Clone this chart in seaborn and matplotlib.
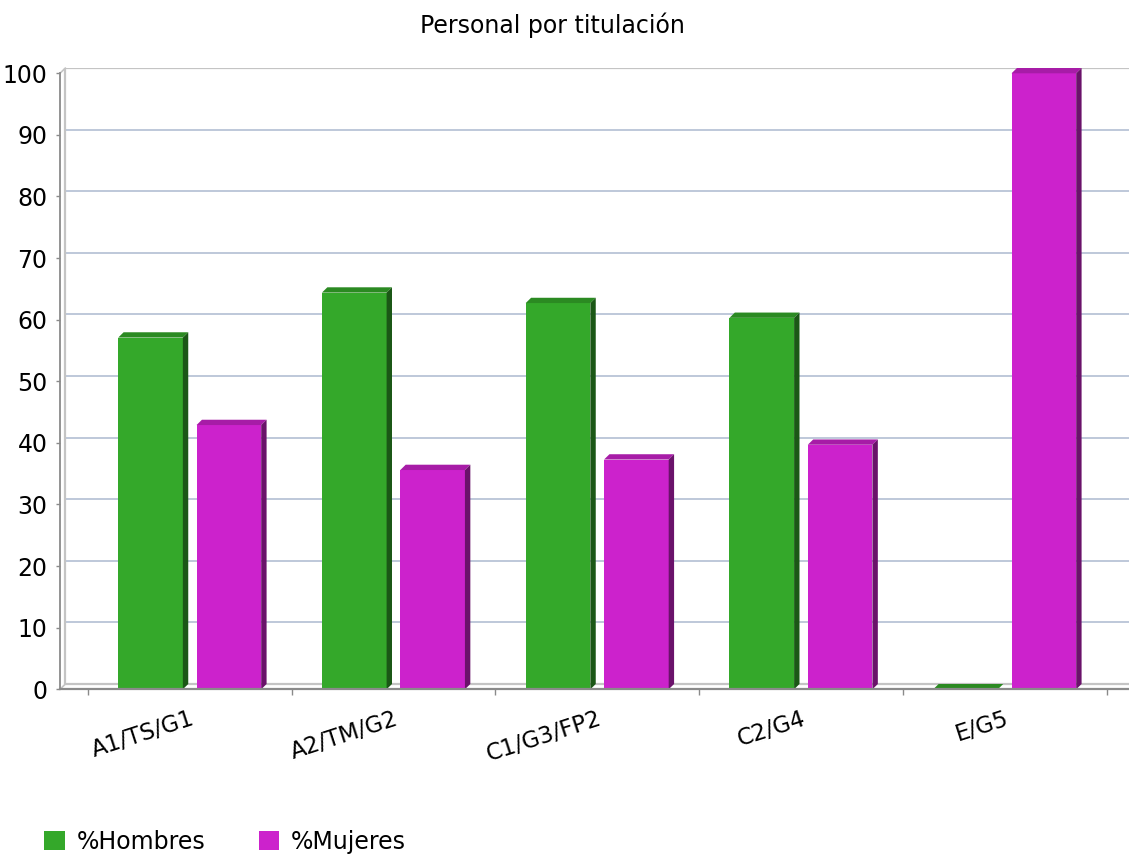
import numpy as np
import pandas as pd
import matplotlib
matplotlib.use("Agg")
import matplotlib.pyplot as plt
from matplotlib.patches import Polygon, Patch
from matplotlib.colors import to_rgb
import seaborn as sns

# --- data -------------------------------------------------------------
categories = ["A1/TS/G1", "A2/TM/G2", "C1/G3/FP2", "C2/G4", "E/G5"]
hombres = [57.1, 64.4, 62.7, 60.3, 0.0]
mujeres = [42.9, 35.6, 37.3, 39.7, 100.0]
series_names = ["%Hombres", "%Mujeres"]
series_colors = ["#34A82A", "#CC22CC"]
y_ticks = list(range(0, 101, 10))
title = "Personal por titulación"

df = pd.DataFrame({
    "categoria": categories * 2,
    "serie": [series_names[0]] * len(categories) + [series_names[1]] * len(categories),
    "valor": hombres + mujeres,
})

# --- figure -----------------------------------------------------------
sns.set_theme(style="white")
plt.rcParams["font.family"] = ["DejaVu Sans"]

W, H = 1129, 858
fig = plt.figure(figsize=(W / 100, H / 100), dpi=100)

# axes geometry in pixels (front plane)
left_px, right_px = 60, 1129
bottom_px, top_px = 689.3, 68.0
front_top_px = 73.3
ax = fig.add_axes([left_px / W, (H - bottom_px) / H,
                   (right_px - left_px) / W, (bottom_px - top_px) / H])

px_per_cat = 203.75
px_per_unit = (bottom_px - front_top_px) / 100.0
first_center_px = 189.7
xmin = -(first_center_px - left_px) / px_per_cat
xmax = xmin + (right_px - left_px) / px_per_cat

# depth offset of the pseudo-3D effect (in data units)
depth_px = 5.4
dx = depth_px / px_per_cat
dy = 5.3 / px_per_unit
ymax = 100 + (front_top_px - top_px) / px_per_unit

sns.barplot(data=df, x="categoria", y="valor", hue="serie",
            order=categories, hue_order=series_names,
            palette=series_colors, saturation=1,
            width=0.769, gap=0.175, linewidth=0, ax=ax, zorder=3)
if ax.get_legend() is not None:
    ax.get_legend().remove()

ax.set_xlim(xmin, xmax)
ax.set_ylim(0, ymax)

# back wall: gridlines and border lines
wall_gray = "#C4C4C4"
grid_col = "#B3BFD3"
for v in y_ticks[1:-1]:
    ax.plot([xmin + dx, xmax], [v + dy, v + dy], color=grid_col, lw=1.2, zorder=1)
ax.plot([xmin + dx, xmax], [100 + dy, 100 + dy], color=wall_gray, lw=1.6, zorder=1)
ax.plot([xmin + dx, xmax], [dy, dy], color=wall_gray, lw=1.6, zorder=1)
ax.plot([xmin + dx, xmin + dx], [dy, 100 + dy], color=wall_gray, lw=1.6, zorder=1)
ax.plot([xmin, xmin + dx], [100, 100 + dy], color=wall_gray, lw=1.2, zorder=1,
        clip_on=False)
ax.plot([xmin, xmin + dx], [0, dy], color=wall_gray, lw=1.2, zorder=1, clip_on=False)

# pseudo-3D faces for every bar
def shade(color, f):
    r, g, b = to_rgb(color)
    return (r * f, g * f, b * f)

for bar in list(ax.patches):
    x0 = bar.get_x()
    w = bar.get_width()
    h = bar.get_height()
    x1 = x0 + w
    fc = bar.get_facecolor()
    top = Polygon([(x0, h), (x0 + dx, h + dy), (x1 + dx, h + dy), (x1, h)],
                  closed=True, facecolor=shade(fc, 0.82), edgecolor="none", zorder=3)
    side = Polygon([(x1, 0), (x1 + dx, dy), (x1 + dx, h + dy), (x1, h)],
                   closed=True, facecolor=shade(fc, 0.52), edgecolor="none", zorder=3)
    ax.add_patch(top)
    ax.add_patch(side)

# front axes lines
for s in ["top", "right"]:
    ax.spines[s].set_visible(False)
ax.spines["left"].set_bounds(0, 100)
ax.spines["left"].set_color("#8A8A8A")
ax.spines["left"].set_linewidth(1.3)
ax.spines["bottom"].set_color("#8A8A8A")
ax.spines["bottom"].set_linewidth(1.6)
for s in ["left", "bottom"]:
    ax.spines[s].set_zorder(4)

ax.set_yticks(y_ticks)
ax.set_yticklabels([str(t) for t in y_ticks], fontsize=17, color="black")
ax.tick_params(axis="y", which="major", length=3, width=1, color="#8A8A8A",
               pad=6, left=True)

ax.set_xticks(range(len(categories)))
ax.set_xticklabels(categories, fontsize=16.5, rotation=18, ha="right",
                   rotation_mode="anchor", color="black")
ax.tick_params(axis="x", which="major", length=0, pad=13)
ax.set_xticks(np.arange(len(categories) + 1) - 0.5, minor=True)
ax.tick_params(axis="x", which="minor", length=4, width=1, color="#8A8A8A",
               bottom=True)
ax.set_xlabel("")
ax.set_ylabel("")
ax.grid(False)

fig.text(552 / W, 1 - 25 / H, title, ha="center", va="center", fontsize=17,
         color="black")

handles = [Patch(facecolor=c, edgecolor="none") for c in series_colors]
fig.legend(handles, series_names, loc="center left",
           bbox_to_anchor=(35 / W, 1 - 842 / H), ncol=2, frameon=False,
           fontsize=17, labelcolor="black", handlelength=0.85, handleheight=0.85,
           handletextpad=0.5, columnspacing=2.3, borderaxespad=0)

fig.savefig("out.png", dpi=100, facecolor="white")
